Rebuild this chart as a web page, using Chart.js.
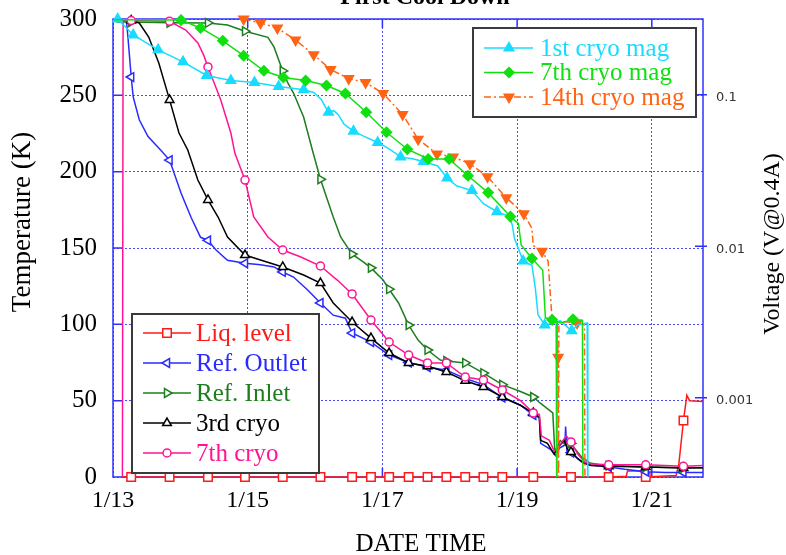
<!DOCTYPE html>
<html>
<head>
<meta charset="utf-8">
<title>First Cool Down</title>
<script src="https://cdn.jsdelivr.net/npm/chart.js@4.4.1/dist/chart.umd.min.js"></script>
<style>
  html, body { margin: 0; padding: 0; background: #fff; }
  #wrap { width: 786px; height: 555px; }
</style>
</head>
<body>
<div id="wrap"><canvas id="coolDown" width="786" height="555"></canvas></div>
<script>
// x values are days of January (13.5 = noon on 1/13)
const dayTicks = [13, 15, 17, 19, 21];
const tempTicks = [0, 50, 100, 150, 200, 250, 300];
const voltTicks = [0.001, 0.01, 0.1];

// samples that carry a marker on the temperature traces
const tempMarks = [13.27, 13.84, 14.41, 14.96, 15.52, 16.08, 16.55, 16.83, 17.10, 17.39,
  17.67, 17.95, 18.23, 18.50, 18.78, 19.24, 19.80, 20.36, 20.91, 21.47];

// temperatures, K
const liqLevel = [[13.14, 0], [13.27, 0], [13.84, 0], [14.41, 0], [14.96, 0], [15.52, 0], [16.08, 0],
  [16.55, 0], [16.83, 0], [17.10, 0], [17.39, 0], [17.67, 0], [17.95, 0], [18.23, 0], [18.50, 0],
  [18.78, 0], [19.24, 0], [19.80, 0], [20.36, 0], [20.62, 0.5], [20.64, 4], [20.86, 4], [20.88, 0.5],
  [20.91, 0], [21.36, 1], [21.40, 8], [21.47, 37], [21.52, 53.5], [21.56, 50], [21.76, 49.5]];

const refOutlet = [[13.05, 299.5], [13.20, 299], [13.22, 289], [13.25, 273], [13.27, 262], [13.30, 249],
  [13.39, 234], [13.52, 223], [13.71, 214], [13.84, 207.6], [14.01, 186], [14.16, 170], [14.30, 157],
  [14.41, 155], [14.53, 148.7], [14.70, 142], [14.96, 140], [15.19, 139], [15.39, 137.6], [15.52, 134.3],
  [15.68, 131], [15.89, 122.5], [16.08, 114], [16.27, 106], [16.45, 104], [16.55, 94.3], [16.83, 88.4],
  [17.10, 79.9], [17.39, 75], [17.67, 72], [17.95, 70], [18.23, 64.5], [18.50, 60.5], [18.78, 52],
  [19.05, 47], [19.24, 40.6], [19.33, 39], [19.35, 22], [19.50, 18], [19.57, 14], [19.63, 19],
  [19.71, 21], [19.72, 33], [19.74, 17], [19.80, 16], [19.88, 13], [19.95, 10], [20.05, 8],
  [20.36, 6.5], [20.60, 5], [20.91, 3.5], [21.20, 3], [21.47, 3], [21.76, 3]];

const refInlet = [[13.05, 298], [13.27, 298], [13.84, 297.5], [14.41, 297.4], [14.70, 296], [14.96, 292],
  [15.30, 288], [15.39, 281.7], [15.52, 266], [15.59, 258.7], [15.68, 251.5], [15.83, 235.8],
  [15.96, 214.2], [16.08, 195], [16.27, 170.3], [16.38, 157.2], [16.48, 150.6], [16.55, 146],
  [16.72, 140.8], [16.83, 137], [17.01, 129], [17.10, 123], [17.24, 114], [17.39, 99.5], [17.53, 89.7],
  [17.67, 83.2], [17.86, 76.6], [17.95, 76], [18.23, 74.7], [18.50, 68.1], [18.78, 60.5], [19.05, 56],
  [19.24, 52.4], [19.34, 48.5], [19.53, 42], [19.56, 16], [19.64, 24], [19.72, 21], [19.80, 22],
  [19.83, 20], [19.96, 13], [20.08, 9.2], [20.23, 8], [20.36, 7.5], [20.91, 6.5], [21.47, 6], [21.76, 6]];

const cryo3 = [[13.05, 299], [13.27, 299], [13.39, 297.4], [13.53, 288.2], [13.68, 271.2], [13.84, 247],
  [13.98, 225.3], [14.11, 214.2], [14.26, 194.5], [14.41, 181.5], [14.56, 170.3], [14.70, 157.2],
  [14.96, 145.4], [15.19, 142.1], [15.52, 137.6], [15.83, 132.3], [16.08, 127], [16.27, 114],
  [16.55, 101.5], [16.83, 91], [17.10, 81.2], [17.39, 74.7], [17.67, 72.5], [17.95, 68.8], [18.23, 63],
  [18.50, 59], [18.78, 52.4], [19.05, 47], [19.24, 41.9], [19.33, 39], [19.35, 24], [19.45, 22],
  [19.55, 15], [19.62, 20], [19.70, 24], [19.75, 18], [19.80, 16.4], [19.90, 12], [20.00, 9],
  [20.10, 7.5], [20.36, 7], [20.91, 6.5], [21.47, 5.9], [21.76, 6]];

const cryo7 = [[13.14, 0], [13.15, 299], [13.27, 299], [13.84, 298.5], [14.08, 292.8], [14.26, 284.3],
  [14.35, 276], [14.41, 268.6], [14.60, 247], [14.75, 225.3], [14.81, 212], [14.96, 194.5],
  [15.09, 170.3], [15.30, 157.2], [15.52, 148.7], [15.79, 144.1], [16.08, 138.2], [16.33, 129],
  [16.55, 119.9], [16.83, 102.8], [17.10, 88.4], [17.39, 79.9], [17.67, 74.7], [17.95, 74.7],
  [18.23, 65.5], [18.50, 63.5], [18.78, 57], [19.05, 50], [19.24, 42], [19.33, 41], [19.36, 27],
  [19.48, 24], [19.55, 17], [19.65, 22], [19.73, 27], [19.80, 23], [19.90, 15], [20.00, 10],
  [20.10, 8.5], [20.36, 8], [20.91, 8], [21.47, 7], [21.76, 7.5]];

// magnet voltages, V at 0.4 A (1e-4 = dropped to zero, below the axis)
const mag1Marks = [13.07, 13.30, 13.67, 14.04, 14.39, 14.75, 15.10, 15.46, 15.83, 16.20, 16.57, 16.93,
  17.27, 17.61, 17.96, 18.33, 18.70, 19.09, 19.41, 19.81];
const mag1 = [[13.02, 0.316], [13.07, 0.316], [13.30, 0.248], [13.67, 0.198], [14.04, 0.165], [14.39, 0.134],
  [14.75, 0.124], [15.10, 0.1205], [15.46, 0.1135], [15.83, 0.108], [15.98, 0.1035], [16.09, 0.0933],
  [16.20, 0.0766], [16.28, 0.0785], [16.35, 0.0733], [16.43, 0.064], [16.57, 0.0575], [16.72, 0.0533],
  [16.93, 0.0484], [17.10, 0.0439], [17.27, 0.0389], [17.46, 0.0377], [17.61, 0.0363], [17.82, 0.0339],
  [17.96, 0.0282], [18.10, 0.0251], [18.33, 0.0233], [18.50, 0.0191], [18.70, 0.0169], [18.89, 0.0157],
  [18.93, 0.0137], [18.96, 0.0113], [19.09, 0.00798], [19.22, 0.0075], [19.27, 0.00531],
  [19.31, 0.00353], [19.41, 0.00302], [19.55, 0.00313], [19.64, 0.00323], [19.81, 0.00277],
  [19.90, 0.00302], [20.04, 0.00312], [20.05, 0.0001]];

const mag7Marks = [14.01, 14.30, 14.63, 14.94, 15.24, 15.53, 15.86, 16.17, 16.45, 16.76, 17.06, 17.37,
  17.68, 17.99, 18.27, 18.57, 18.90, 19.22, 19.52, 19.83];
const mag7 = [[13.02, 0.3126], [14.01, 0.311], [14.30, 0.276], [14.63, 0.227], [14.94, 0.181], [15.24, 0.144],
  [15.53, 0.130], [15.86, 0.124], [16.17, 0.115], [16.45, 0.102], [16.76, 0.0766], [17.06, 0.0566],
  [17.37, 0.0437], [17.68, 0.0377], [17.99, 0.0377], [18.27, 0.0292], [18.57, 0.0226], [18.90, 0.0157],
  [19.02, 0.0141], [19.06, 0.0102], [19.22, 0.0083], [19.38, 0.00697], [19.42, 0.00337],
  [19.52, 0.00327], [19.58, 0.00318], [19.59, 0.0001], [19.595, 0.00318], [19.65, 0.00312],
  [19.83, 0.0033], [19.97, 0.00323], [19.98, 0.0001]];

const mag14Marks = [14.94, 15.19, 15.44, 15.71, 15.98, 16.23, 16.50, 16.75, 17.01, 17.30, 17.53, 17.81,
  18.05, 18.30, 18.56, 18.84, 19.10, 19.37, 19.61, 19.89];
const mag14 = [[14.94, 0.316], [15.19, 0.298], [15.44, 0.276], [15.71, 0.230], [15.98, 0.184],
  [16.23, 0.1466], [16.50, 0.128], [16.75, 0.1205], [17.01, 0.102], [17.30, 0.0741], [17.53, 0.0509],
  [17.81, 0.0407], [18.05, 0.0389], [18.30, 0.035], [18.56, 0.0288], [18.84, 0.0209], [19.10, 0.0164],
  [19.22, 0.0131], [19.24, 0.0101], [19.37, 0.00927], [19.46, 0.00798], [19.49, 0.00507],
  [19.52, 0.00324], [19.58, 0.00318], [19.61, 0.00185], [19.615, 0.0001], [19.62, 0.00316],
  [19.70, 0.00318], [19.89, 0.00312], [20.00, 0.00302], [20.01, 0.0001]];

const serif = '"Liberation Serif", "DejaVu Serif", serif';
const frameColor = '#3030ff';
const gridColor = '#4a4aff';

// marker only on the listed sample times
function marksAt(times, r) {
  const set = new Set(times);
  return ctx => (ctx.raw && set.has(ctx.raw[0]) ? r : 0);
}

function series(label, data, color, marks, style) {
  return Object.assign({
    label, data, borderColor: color, pointBorderColor: color,
    pointBackgroundColor: '#fff', borderWidth: 1.5, pointBorderWidth: 1.5,
    pointRadius: marksAt(marks, style.r), pointHoverRadius: 0,
    tension: 0, yAxisID: 'y', clip: {left: 6, top: 8, right: 6, bottom: 0}
  }, style);
}

const datasets = [
  series('7th cryo mag', mag7, '#10e010', mag7Marks,
    {r: 5, pointStyle: 'rectRot', pointBackgroundColor: '#10e010', yAxisID: 'y2'}),
  series('1st cryo mag', mag1, '#18dcff', mag1Marks,
    {r: 5.5, pointStyle: 'triangle', pointBackgroundColor: '#18dcff', yAxisID: 'y2'}),
  series('14th cryo mag', mag14, '#ff6414', mag14Marks,
    {r: 5.5, pointStyle: 'triangle', pointRotation: 180, pointBackgroundColor: '#ff6414',
     borderDash: [7, 3, 2, 3], yAxisID: 'y2'}),
  series('7th cryo', cryo7, '#ff1493', tempMarks, {r: 4, pointStyle: 'circle'}),
  series('3rd cryo', cryo3, '#000000', tempMarks, {r: 5, pointStyle: 'triangle'}),
  series('Ref. Inlet', refInlet, '#1e7d1e', tempMarks, {r: 5, pointStyle: 'triangle', pointRotation: 90}),
  series('Ref. Outlet', refOutlet, '#2a2aff', tempMarks, {r: 5, pointStyle: 'triangle', pointRotation: -90}),
  series('Liq. level', liqLevel, '#ff1a1a', tempMarks,
    {r: 6, pointStyle: 'rect', clip: {left: 6, top: 8, right: 6, bottom: 8}})
];

const legendBoxes = [
  {x: 473, y: 28, w: 223, h: 89, first: 20, step: 24.5, lineEnd: 60, mark: 36, text: 67,
   labels: ['1st cryo mag', '7th cryo mag', '14th cryo mag']},
  {x: 132, y: 314, w: 187, h: 159, first: 19, step: 30, lineEnd: 59, mark: 35, text: 64,
   labels: ['Liq. level', 'Ref. Outlet', 'Ref. Inlet', '3rd cryo', '7th cryo']}
];

const decor = {
  id: 'decor',
  beforeDatasetsDraw(chart) {
    const {ctx, chartArea: a, scales} = chart;
    ctx.save();
    ctx.strokeStyle = frameColor;
    ctx.lineWidth = 1.5;
    ctx.setLineDash([]);
    ctx.strokeRect(a.left, a.top, a.right - a.left, a.bottom - a.top);
    ctx.beginPath();
    tempTicks.slice(1, -1).forEach(v => {
      const y = scales.y.getPixelForValue(v);
      ctx.moveTo(a.left, y); ctx.lineTo(a.left + 10, y);
    });
    voltTicks.forEach(v => {
      const y = scales.y2.getPixelForValue(v);
      ctx.moveTo(a.right - 8, y); ctx.lineTo(a.right + 4, y);
    });
    dayTicks.slice(1).forEach(v => {
      const x = scales.x.getPixelForValue(v);
      ctx.moveTo(x, a.top); ctx.lineTo(x, a.top + 9);
      ctx.moveTo(x, a.bottom); ctx.lineTo(x, a.bottom - 9);
    });
    ctx.stroke();
    ctx.restore();
  },
  afterDraw(chart) {
    const ctx = chart.ctx;
    ctx.save();
    // legends
    legendBoxes.forEach(b => {
      ctx.fillStyle = '#fff';
      ctx.fillRect(b.x, b.y, b.w, b.h);
      ctx.strokeStyle = '#3a3a3a';
      ctx.lineWidth = 2;
      ctx.setLineDash([]);
      ctx.strokeRect(b.x, b.y, b.w, b.h);
      b.labels.forEach((label, i) => {
        const ds = chart.data.datasets.find(d => d.label === label);
        const y = b.y + b.first + i * b.step;
        ctx.strokeStyle = ds.borderColor;
        ctx.lineWidth = 1.5;
        ctx.setLineDash(ds.borderDash || []);
        ctx.beginPath();
        ctx.moveTo(b.x + 11, y);
        ctx.lineTo(b.x + b.lineEnd, y);
        ctx.stroke();
        ctx.setLineDash([]);
        ctx.fillStyle = ds.pointBackgroundColor;
        Chart.helpers.drawPoint(ctx, {pointStyle: ds.pointStyle, rotation: ds.pointRotation || 0,
          radius: ds.r, borderWidth: 1.5}, b.x + b.mark, y);
        ctx.fillStyle = ds.borderColor;
        ctx.font = '25px ' + serif;
        ctx.textAlign = 'left';
        ctx.textBaseline = 'middle';
        ctx.fillText(label, b.x + b.text, y + 1);
      });
    });
    // titles
    ctx.fillStyle = '#000';
    ctx.textAlign = 'center';
    ctx.font = 'bold 24px ' + serif;
    ctx.textBaseline = 'alphabetic';
    ctx.fillText('First Cool Down', 425, 4);
    ctx.font = '25px ' + serif;
    ctx.textBaseline = 'middle';
    ctx.fillText('DATE TIME', 421, 544);
    ctx.save();
    ctx.translate(23, 222);
    ctx.rotate(-Math.PI / 2);
    ctx.font = '27px ' + serif;
    ctx.fillText('Temperature (K)', 0, 0);
    ctx.restore();
    ctx.save();
    ctx.translate(773, 244);
    ctx.rotate(-Math.PI / 2);
    ctx.font = '24px ' + serif;
    ctx.fillText('Voltage (V@0.4A)', 0, 0);
    ctx.restore();
    ctx.restore();
  }
};

// keep the plot frame fixed: no extra room for labels overhanging the ends
function noOverhang(s) {
  s.paddingTop = 0; s.paddingBottom = 0; s.paddingLeft = 0; s.paddingRight = 0;
}

new Chart(document.getElementById('coolDown').getContext('2d'), {
  type: 'line',
  data: {datasets},
  options: {
    responsive: false,
    animation: false,
    layout: {padding: {top: 19, left: 0, right: 0, bottom: 0}},
    plugins: {legend: {display: false}, tooltip: {enabled: false}},
    scales: {
      x: {
        type: 'linear', min: 13, max: 21.76,
        afterBuildTicks: s => { s.ticks = dayTicks.map(v => ({value: v})); },
        afterFit: s => { s.height = 78; noOverhang(s); },
        grid: {color: gridColor, lineWidth: 1, drawTicks: false},
        border: {display: false, dash: [2, 2]},
        ticks: {padding: 9, color: '#000', maxRotation: 0, autoSkip: false,
          font: {family: serif, size: 24}, callback: v => '1/' + v}
      },
      y: {
        position: 'left', min: 0, max: 300,
        afterBuildTicks: s => { s.ticks = tempTicks.map(v => ({value: v})); },
        afterFit: s => { s.width = 113; noOverhang(s); },
        grid: {color: gridColor, lineWidth: 1, drawTicks: false},
        border: {display: false, dash: [2, 2]},
        ticks: {padding: 16, color: '#000', font: {family: serif, size: 25}}
      },
      y2: {
        type: 'logarithmic', position: 'right', min: Math.pow(10, -3.5), max: Math.pow(10, -0.5),
        afterBuildTicks: s => { s.ticks = voltTicks.map(v => ({value: v})); },
        afterFit: s => { s.width = 83; noOverhang(s); },
        grid: {display: false, drawTicks: false},
        border: {display: false},
        ticks: {padding: 13, labelOffset: 3, color: '#333',
          font: {family: '"DejaVu Sans", sans-serif', size: 13}, callback: v => String(v)}
      }
    }
  },
  plugins: [decor]
});
</script>
</body>
</html>
